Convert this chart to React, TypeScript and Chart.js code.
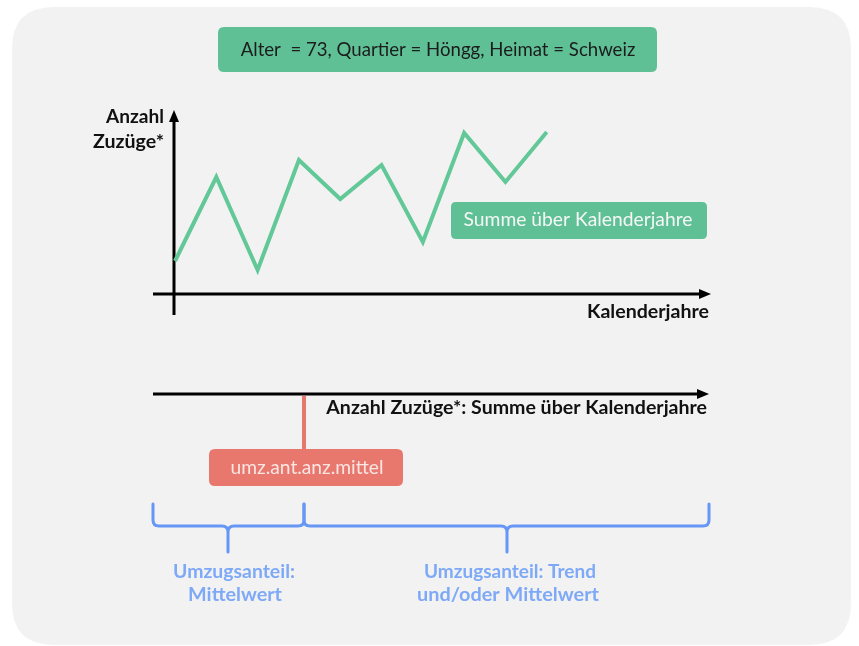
import { useEffect, useRef } from "react";
import { Chart, registerables } from "chart.js";

Chart.register(...registerables);

// Kalenderjahre (Index) und Anzahl Zuzüge* (Summe über Kalenderjahre)
const jahre = [1, 2, 3, 4, 5, 6, 7, 8, 9, 10];
const zuzuege = [3.3, 11.7, 2.4, 13.4, 9.5, 12.9, 5.2, 16.1, 11.2, 16.2];

const titelText = "Alter  = 73, Quartier = Höngg, Heimat = Schweiz";
const yAchsenText = ["Anzahl", "Zuzüge*"];
const xAchsenText = "Kalenderjahre";
const summeText = "Summe über Kalenderjahre";
const unterAchseText = "Anzahl Zuzüge*: Summe über Kalenderjahre";
const mittelText = "umz.ant.anz.mittel";
const klammerLinks = ["Umzugsanteil:", "Mittelwert"];
const klammerRechts = ["Umzugsanteil: Trend", "und/oder Mittelwert"];

const FONT = "Lato, 'Open Sans', sans-serif";
const GREEN = "#5fc096";
const LINE_GREEN = "#62c898";
const RED = "#e8776e";
const BLUE = "#6696f6";
const BLUE_TEXT = "#7ea9f7";

function roundRect(ctx: CanvasRenderingContext2D, x: number, y: number, w: number, h: number, r: number) {
  ctx.beginPath();
  ctx.moveTo(x + r, y);
  ctx.lineTo(x + w - r, y);
  ctx.quadraticCurveTo(x + w, y, x + w, y + r);
  ctx.lineTo(x + w, y + h - r);
  ctx.quadraticCurveTo(x + w, y + h, x + w - r, y + h);
  ctx.lineTo(x + r, y + h);
  ctx.quadraticCurveTo(x, y + h, x, y + h - r);
  ctx.lineTo(x, y + r);
  ctx.quadraticCurveTo(x, y, x + r, y);
  ctx.closePath();
}

function fitText(
  ctx: CanvasRenderingContext2D,
  text: string,
  x: number,
  y: number,
  align: CanvasTextAlign,
  weight: string,
  targetW: number,
  color: string
) {
  ctx.font = `${weight} 20px ${FONT}`;
  const w = ctx.measureText(text).width;
  const size = (20 * targetW) / w;
  ctx.font = `${weight} ${size.toFixed(2)}px ${FONT}`;
  ctx.textAlign = align;
  ctx.textBaseline = "middle";
  ctx.fillStyle = color;
  ctx.fillText(text, x, y);
}

function arrowHead(ctx: CanvasRenderingContext2D, tipX: number, tipY: number, dir: "up" | "right") {
  ctx.beginPath();
  if (dir === "up") {
    ctx.moveTo(tipX, tipY);
    ctx.lineTo(tipX - 5, tipY + 12);
    ctx.lineTo(tipX + 5, tipY + 12);
  } else {
    ctx.moveTo(tipX, tipY);
    ctx.lineTo(tipX - 12, tipY - 5);
    ctx.lineTo(tipX - 12, tipY + 5);
  }
  ctx.closePath();
  ctx.fill();
}

function brace(
  ctx: CanvasRenderingContext2D,
  x1: number,
  x2: number,
  xm: number,
  yTop: number,
  yMid: number,
  yTip: number,
  r: number
) {
  ctx.beginPath();
  ctx.moveTo(x1, yTop);
  ctx.lineTo(x1, yMid - r);
  ctx.quadraticCurveTo(x1, yMid, x1 + r, yMid);
  ctx.lineTo(xm - r, yMid);
  ctx.quadraticCurveTo(xm, yMid, xm, yMid + r);
  ctx.lineTo(xm, yTip);
  ctx.moveTo(xm, yMid + r);
  ctx.quadraticCurveTo(xm, yMid, xm + r, yMid);
  ctx.lineTo(x2 - r, yMid);
  ctx.quadraticCurveTo(x2, yMid, x2, yMid - r);
  ctx.lineTo(x2, yTop);
  ctx.stroke();
}

const diagramPlugin = {
  id: "diagram",
  beforeDraw(chart: any) {
    const ctx = chart.ctx as CanvasRenderingContext2D;
    ctx.save();
    ctx.fillStyle = "#ffffff";
    ctx.fillRect(0, 0, chart.width, chart.height);
    ctx.fillStyle = "#f2f2f2";
    roundRect(ctx, 12, 7, 839, 638, 42);
    ctx.fill();
    ctx.restore();
  },
  beforeDatasetsDraw(chart: any) {
    const ctx = chart.ctx as CanvasRenderingContext2D;
    const xs = chart.scales.x;
    const ys = chart.scales.y;
    const x0 = xs.getPixelForValue(jahre[0]) - 1;
    const y0 = ys.getPixelForValue(0);
    const xEnd = xs.getPixelForValue(xs.max) - 1;
    ctx.save();
    ctx.strokeStyle = "#000";
    ctx.fillStyle = "#000";
    ctx.lineWidth = 3;
    // y axis
    ctx.beginPath();
    ctx.moveTo(x0, y0 + 21);
    ctx.lineTo(x0, ys.getPixelForValue(17.6));
    ctx.stroke();
    arrowHead(ctx, x0, ys.getPixelForValue(18.4), "up");
    // x axis
    ctx.beginPath();
    ctx.moveTo(x0 - 21, y0);
    ctx.lineTo(xEnd - 8, y0);
    ctx.stroke();
    arrowHead(ctx, xEnd, y0, "right");
    ctx.restore();
  },
  afterDraw(chart: any) {
    const ctx = chart.ctx as CanvasRenderingContext2D;
    const xs = chart.scales.x;
    const ys = chart.scales.y;
    const x0 = xs.getPixelForValue(jahre[0]) - 1;
    const y0 = ys.getPixelForValue(0);
    const xEnd = xs.getPixelForValue(xs.max) - 1;
    ctx.save();

    // title box
    ctx.fillStyle = GREEN;
    roundRect(ctx, 218, 27, 439, 45, 6);
    ctx.fill();
    fitText(ctx, titelText, 438, 50, "center", "normal", 395, "#1c1c1c");

    // y axis label
    fitText(ctx, yAchsenText[0], 164, 117, "right", "bold", 58, "#111");
    fitText(ctx, yAchsenText[1], 164, 142, "right", "bold", 71, "#111");

    // x axis label
    fitText(ctx, xAchsenText, xEnd - 2, y0 + 18, "right", "bold", 122, "#111");

    // Summe box
    ctx.fillStyle = GREEN;
    roundRect(ctx, 451, 202, 256, 37, 5);
    ctx.fill();
    fitText(ctx, summeText, 578, 220, "center", "normal", 229, "#f5f7f5");

    // lower axis
    const yLow = 394;
    ctx.strokeStyle = "#000";
    ctx.fillStyle = "#000";
    ctx.lineWidth = 3;
    ctx.beginPath();
    ctx.moveTo(x0 - 21, yLow);
    ctx.lineTo(xEnd - 10, yLow);
    ctx.stroke();
    arrowHead(ctx, xEnd - 2, yLow, "right");
    fitText(ctx, unterAchseText, xEnd - 4, 408, "right", "bold", 381, "#111");

    // red marker
    ctx.strokeStyle = RED;
    ctx.lineWidth = 4;
    ctx.beginPath();
    ctx.moveTo(304, yLow + 2);
    ctx.lineTo(304, 452);
    ctx.stroke();
    ctx.fillStyle = RED;
    roundRect(ctx, 209, 449, 194, 37, 6);
    ctx.fill();
    fitText(ctx, mittelText, 307, 468, "center", "normal", 153, "#fbe6e3");

    // braces
    ctx.strokeStyle = BLUE;
    ctx.lineWidth = 3;
    ctx.lineCap = "round";
    brace(ctx, 153, 304, 228, 504, 526, 552, 6);
    brace(ctx, 304, 709, 507, 504, 526, 552, 6);

    fitText(ctx, klammerLinks[0], 234, 572, "center", "bold", 122, BLUE_TEXT);
    fitText(ctx, klammerLinks[1], 235, 595, "center", "bold", 94, BLUE_TEXT);
    fitText(ctx, klammerRechts[0], 510, 572, "center", "bold", 172, BLUE_TEXT);
    fitText(ctx, klammerRechts[1], 508, 595, "center", "bold", 182, BLUE_TEXT);

    ctx.restore();
  },
};

export default function App() {
  const canvasRef = useRef<HTMLCanvasElement | null>(null);

  useEffect(() => {
    const canvas = canvasRef.current;
    if (!canvas) return;
    const chart = new Chart(canvas, {
      type: "line",
      data: {
        datasets: [
          {
            data: jahre.map((j, i) => ({ x: j, y: zuzuege[i] })),
            borderColor: LINE_GREEN,
            borderWidth: 4,
            pointRadius: 0,
            tension: 0,
            fill: false,
            clip: false as any,
          },
        ],
      },
      options: {
        animation: false,
        responsive: false,
        maintainAspectRatio: false,
        devicePixelRatio: 1,
        events: [],
        layout: { padding: { left: 175, right: 147, top: 94, bottom: 352 } },
        scales: {
          x: { type: "linear", min: 1, max: 14, display: false },
          y: { min: 0, max: 20, display: false },
        },
        plugins: {
          legend: { display: false },
          tooltip: { enabled: false },
        },
      },
      plugins: [diagramPlugin],
    });
    return () => chart.destroy();
  }, []);

  return (
    <div style={{ position: "fixed", left: 0, top: 0, width: 859, height: 646 }}>
      <canvas ref={canvasRef} width={859} height={646} style={{ display: "block", width: 859, height: 646 }} />
    </div>
  );
}
